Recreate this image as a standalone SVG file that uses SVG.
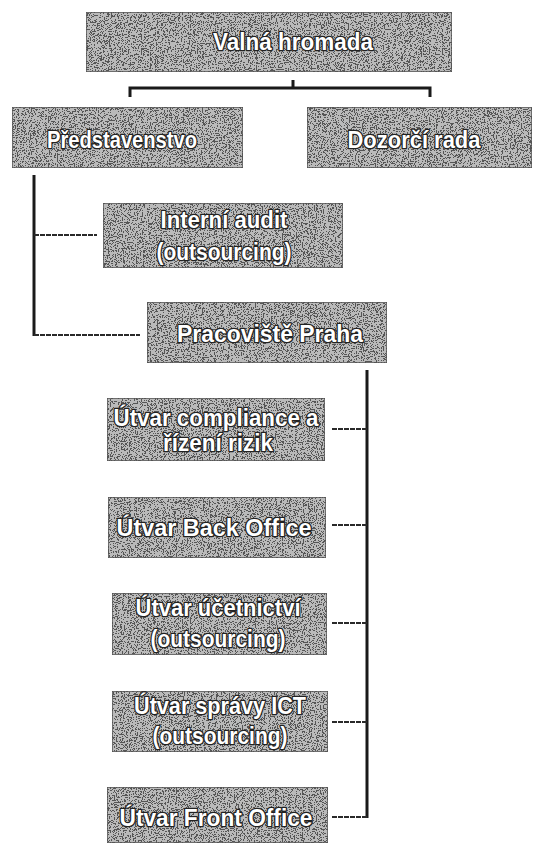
<svg xmlns="http://www.w3.org/2000/svg" width="535" height="846" viewBox="0 0 535 846">
<defs>
<filter id="grain" x="0" y="0" width="1" height="1" color-interpolation-filters="sRGB">
<feTurbulence type="fractalNoise" baseFrequency="0.85" numOctaves="2" seed="3" result="n"/>
<feColorMatrix in="n" type="matrix" values="0 0 0 0 0  0 0 0 0 0  0 0 0 0 0  1.2 1.2 0 0 -0.8" result="a"/>
<feComponentTransfer in="a" result="d"><feFuncA type="discrete" tableValues="0 1"/></feComponentTransfer>
<feFlood flood-color="#555" result="c"/>
<feComposite in="c" in2="d" operator="in" result="dots"/>
<feComposite in="dots" in2="SourceGraphic" operator="in" result="dots2"/>
<feMerge><feMergeNode in="SourceGraphic"/><feMergeNode in="dots2"/></feMerge>
</filter>
</defs>
<style>
.box{fill:#bababa;stroke:#555;stroke-width:1.5;filter:url(#grain)}
.t{font-family:"Liberation Sans",Arial,sans-serif;font-size:23px;font-weight:bold;fill:#fff;stroke:#222;stroke-width:2.6;paint-order:stroke;stroke-linejoin:round;text-anchor:middle}
.ln{fill:none;stroke:#1a1a1a;stroke-width:3}
.st{fill:none;stroke:#2a2a2a;stroke-width:2;stroke-dasharray:5 1}
</style>
<rect width="535" height="846" fill="#fff"/>
<g id="connectors">
<path class="ln" d="M293 80V88M130 97V88H430V97"/>
<path class="ln" d="M34 175V336"/>
<path class="st" d="M34 235H97M34 335H140"/>
<path class="ln" d="M367 370V818"/>
<path class="st" d="M332 429H367M332 525H367M332 623H367M332 722H367M332 817H367"/>
</g>
<g id="valna-hromada"><rect class="box" x="86" y="12" width="366" height="60"/><text class="t" x="293" y="50" textLength="160" lengthAdjust="spacingAndGlyphs">Valná hromada</text></g>
<g id="predstavenstvo"><rect class="box" x="12" y="107" width="231" height="61"/><text class="t" x="122" y="148" textLength="150" lengthAdjust="spacingAndGlyphs">Představenstvo</text></g>
<g id="dozorci-rada"><rect class="box" x="307" y="107" width="225" height="61"/><text class="t" x="414" y="148" textLength="133" lengthAdjust="spacingAndGlyphs">Dozorčí rada</text></g>
<g id="interni-audit"><rect class="box" x="103" y="203" width="240" height="65"/><text class="t" x="224" y="228" textLength="127" lengthAdjust="spacingAndGlyphs">Interní audit</text><text class="t" x="224" y="260" textLength="135" lengthAdjust="spacingAndGlyphs">(outsourcing)</text></g>
<g id="pracoviste-praha"><rect class="box" x="147" y="302" width="240" height="61"/><text class="t" x="270" y="342" textLength="186" lengthAdjust="spacingAndGlyphs">Pracoviště Praha</text></g>
<g id="compliance"><rect class="box" x="107" y="398" width="218" height="63"/><text class="t" x="216" y="426" textLength="205" lengthAdjust="spacingAndGlyphs">Útvar compliance a</text><text class="t" x="218" y="451" textLength="110" lengthAdjust="spacingAndGlyphs">řízení rizik</text></g>
<g id="back-office"><rect class="box" x="108" y="497" width="218" height="61"/><text class="t" x="214" y="536" textLength="195" lengthAdjust="spacingAndGlyphs">Útvar Back Office</text></g>
<g id="ucetnictvi"><rect class="box" x="112" y="593" width="215" height="62"/><text class="t" x="218" y="616" textLength="165" lengthAdjust="spacingAndGlyphs">Útvar účetnictví</text><text class="t" x="218" y="647" textLength="135" lengthAdjust="spacingAndGlyphs">(outsourcing)</text></g>
<g id="spravy-ict"><rect class="box" x="112" y="691" width="216" height="61"/><text class="t" x="220" y="714" textLength="172" lengthAdjust="spacingAndGlyphs">Útvar správy ICT</text><text class="t" x="220" y="744" textLength="135" lengthAdjust="spacingAndGlyphs">(outsourcing)</text></g>
<g id="front-office"><rect class="box" x="107" y="787" width="221" height="56"/><text class="t" x="216" y="826" textLength="193" lengthAdjust="spacingAndGlyphs">Útvar Front Office</text></g>
</svg>
